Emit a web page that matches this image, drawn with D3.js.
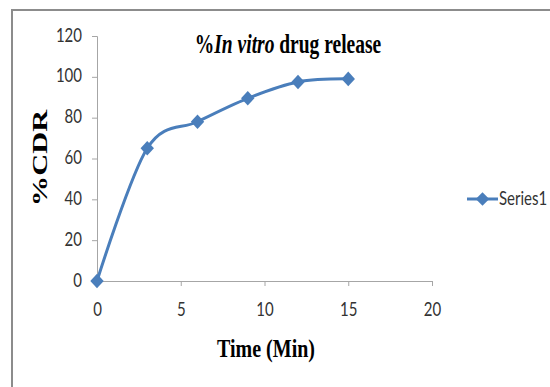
<!DOCTYPE html>
<html lang="en">
<head>
<meta charset="UTF-8">
<title>%In vitro drug release</title>
<script src="https://d3js.org/d3.v7.min.js"></script>
<style>
    body { margin: 0; background: #fff; }
    .tick text { font-family: Lato, "Open Sans", sans-serif; font-size: 15px; fill: #333; }
    .axis path, .axis line { stroke: #a6a6a6; }
    .title, .axis-title { font-family: "Liberation Serif", "Times New Roman", serif; font-weight: bold; fill: #000; }
    .legend text { font-family: Lato, "Open Sans", sans-serif; font-size: 15px; fill: #333; }
</style>
</head>
<body>
<div id="chart"></div>
<script>
    const timeMin = [0, 3, 6, 9, 12, 15];
    const cdr = [0, 65, 78, 89.5, 97.5, 99];
    const seriesName = "Series1";
    const xTicks = [0, 5, 10, 15, 20];
    const yTicks = [0, 20, 40, 60, 80, 100, 120];

    const width = 550, height = 387;
    const margin = { top: 36, right: 116, bottom: 106, left: 97 };
    const stretch = 1.3; // the original picture is squashed horizontally

    const svg = d3.select("#chart").append("svg")
        .attr("width", width)
        .attr("height", height);

    // chart frame (top and left edges only visible)
    svg.append("line").attr("x1", 11).attr("x2", width).attr("y1", 10).attr("y2", 10)
        .attr("stroke", "#8c8c8c").attr("stroke-width", 2);
    svg.append("line").attr("x1", 12).attr("x2", 12).attr("y1", 10).attr("y2", height)
        .attr("stroke", "#8c8c8c").attr("stroke-width", 2);

    const x = d3.scaleLinear().domain([0, 20]).range([margin.left, width - margin.right - 2]);
    const y = d3.scaleLinear().domain([0, 120]).range([height - margin.bottom, margin.top]);

    const xAxis = svg.append("g")
        .attr("class", "axis")
        .attr("transform", `translate(0,${y(0)})`)
        .call(d3.axisBottom(x).tickValues(xTicks).tickSize(5).tickSizeOuter(5).tickPadding(11));
    xAxis.selectAll(".tick text").attr("transform", `scale(1,${stretch})`);

    const yAxis = svg.append("g")
        .attr("class", "axis")
        .attr("transform", `translate(${x(0)},0)`)
        .call(d3.axisLeft(y).tickValues(yTicks).tickSize(5).tickSizeOuter(5).tickPadding(10));
    yAxis.selectAll(".tick text").attr("transform", `scale(1,${stretch})`).attr("dy", "0.26em");

    const line = d3.line()
        .x((d, i) => x(timeMin[i]))
        .y(d => y(d))
        .curve(d3.curveCatmullRom.alpha(0));

    svg.append("path")
        .datum(cdr)
        .attr("fill", "none")
        .attr("stroke", "#4a7ebb")
        .attr("stroke-width", 3)
        .attr("d", line);

    const diamond = d3.symbol().type(d3.symbolDiamond2).size(115);

    svg.selectAll(".pt")
        .data(cdr)
        .join("path")
        .attr("class", "pt")
        .attr("transform", (d, i) => `translate(${x(timeMin[i])},${y(d)}) scale(1,1.08)`)
        .attr("d", diamond)
        .attr("fill", "#4a7ebb");

    // title
    const title = svg.append("text")
        .attr("class", "title")
        .attr("transform", `translate(288,53) scale(1,1.35)`)
        .attr("text-anchor", "middle")
        .attr("font-size", 19.5);
    title.append("tspan").text("%");
    title.append("tspan").attr("font-style", "italic").text("In vitro");
    title.append("tspan").text(" drug release");

    svg.append("text")
        .attr("class", "axis-title")
        .attr("transform", `translate(47,158) rotate(-90) scale(1.45,1)`)
        .attr("text-anchor", "middle")
        .attr("font-size", 21)
        .text("%CDR");

    svg.append("text")
        .attr("class", "axis-title")
        .attr("transform", `translate(266,357) scale(1,${stretch})`)
        .attr("text-anchor", "middle")
        .attr("font-size", 20)
        .text("Time (Min)");

    // legend
    const legend = svg.append("g").attr("class", "legend").attr("transform", "translate(467,199)");
    legend.append("line").attr("x1", 0).attr("x2", 31).attr("y1", 0).attr("y2", 0)
        .attr("stroke", "#4a7ebb").attr("stroke-width", 3);
    legend.append("path").attr("transform", "translate(15.5,0)").attr("d", diamond).attr("fill", "#4a7ebb");
    legend.append("text").attr("transform", `translate(32,0) scale(1,${stretch})`)
        .attr("dy", "0.33em").text(seriesName);
</script>
</body>
</html>
